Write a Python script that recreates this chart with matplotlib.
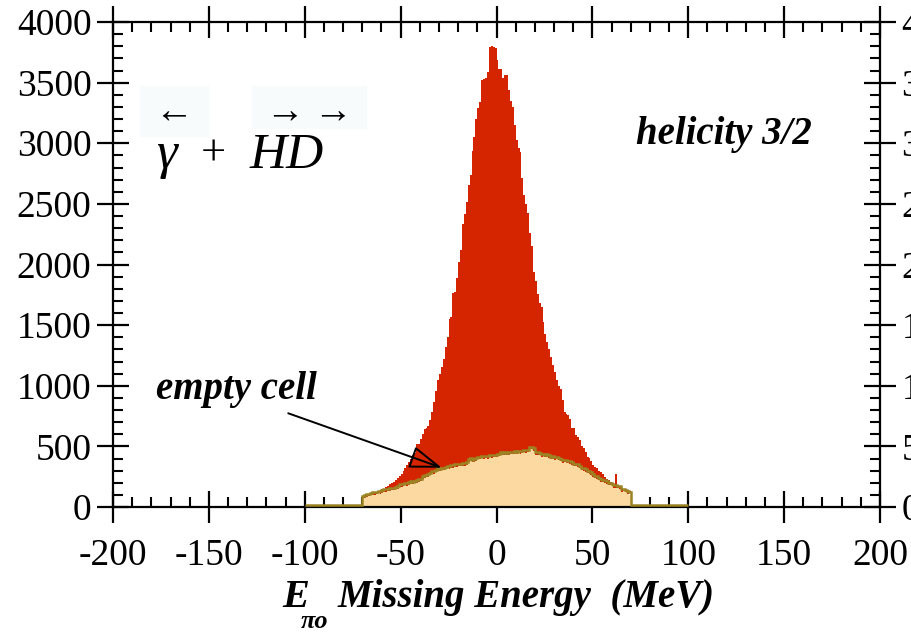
import numpy as np
import matplotlib
matplotlib.use("Agg")
import matplotlib.pyplot as plt
from matplotlib.patches import Rectangle
from matplotlib.ticker import MultipleLocator, FixedLocator, FixedFormatter
from matplotlib.transforms import ScaledTranslation

# ---------------- data ----------------
# full target (helicity 3/2), 1 MeV bins from -70 to 70 MeV
red_edges = np.arange(-70, 71, 1)
red_counts = [
    90, 95, 100, 106, 112, 116, 121, 126, 131, 138,
    146, 152, 162, 175, 186, 196, 205, 220, 236, 252,
    275, 296, 318, 345, 372, 395, 425, 448, 520, 520,
    560, 600, 640, 655, 665, 720, 785, 870, 960, 1047,
    1100, 1157, 1218, 1322, 1405, 1550, 1570, 1765, 1775, 1891,
    2023, 2120, 2334, 2416, 2515, 2655, 2738, 2936, 3050, 3200,
    3290, 3340, 3520, 3530, 3535, 3585, 3790, 3800, 3795, 3785,
    3690, 3610, 3615, 3540, 3565, 3560, 3440, 3345, 3300, 3150,
    3027, 2958, 2930, 2711, 2573, 2500, 2425, 2260, 2155, 1941,
    1864, 1757, 1680, 1650, 1528, 1424, 1364, 1300, 1240, 1171,
    1116, 1047, 1000, 970, 882, 786, 770, 759, 726, 650,
    649, 594, 580, 553, 500, 484, 450, 415, 401, 380,
    346, 330, 319, 300, 291, 270, 250, 235, 223, 205,
    195, 190, 270, 175, 168, 155, 148, 130, 121, 85,
]

# empty cell, 1 MeV bins from -100 to 100 MeV
empty_edges = np.arange(-100, 101, 1)
empty_core = [
    72, 78, 85, 88, 96, 99, 102, 104, 113, 110,
    116, 126, 124, 130, 133, 140, 138, 146, 150, 168,
    165, 170, 179, 176, 182, 190, 188, 195, 200, 209,
    214, 232, 240, 245, 250, 262, 278, 275, 286, 300,
    296, 305, 303, 312, 319, 316, 324, 322, 330, 334,
    338, 336, 342, 340, 350, 372, 382, 370, 374, 380,
    395, 392, 401, 398, 404, 400, 410, 406, 412, 410,
    415, 420, 429, 425, 432, 428, 430, 435, 433, 440,
    436, 443, 440, 445, 451, 447, 452, 476, 476, 462,
    430, 429, 425, 415, 418, 412, 415, 405, 393, 396,
    390, 392, 385, 378, 366, 370, 364, 360, 356, 350,
    338, 336, 330, 318, 305, 300, 292, 278, 275, 268,
    250, 237, 232, 222, 209, 205, 198, 190, 181, 178,
    170, 159, 160, 155, 150, 126, 130, 122, 110, 99,
]
empty_counts = [0] * 30 + empty_core + [0] * 30

x_ticks = [-200, -150, -100, -50, 0, 50, 100, 150, 200]
x_labels = ["-200", "-150", "-100", "-50", "0", "50", "100", "150", "200"]
y_ticks = [0, 500, 1000, 1500, 2000, 2500, 3000, 3500, 4000]
y_labels = [str(v) for v in y_ticks]

RED = "#d42400"
TAN = "#fdd9a2"
OLIVE = "#9c8424"

serif = ["Liberation Serif", "DejaVu Serif"]
plt.rcParams["font.family"] = serif

W, H = 911, 637
fig = plt.figure(figsize=(W / 100, H / 100), dpi=100)
ax = fig.add_axes([113 / W, 1 - 507 / H, (880 - 113) / W, (507 - 22) / H])

ax.stairs(red_counts, red_edges, fill=True, color=RED, zorder=2)
ax.stairs(empty_counts, empty_edges, fill=True, color=TAN, zorder=3)
lift = ax.transData + ScaledTranslation(0, 1.8 / 72, fig.dpi_scale_trans)
ax.stairs(empty_counts, empty_edges, fill=False, color=OLIVE, lw=1.8,
          zorder=7, transform=lift)

ax.set_xlim(-200, 200)
ax.set_ylim(0, 4000)

ax.xaxis.set_major_locator(FixedLocator(x_ticks))
ax.xaxis.set_major_formatter(FixedFormatter(x_labels))
ax.yaxis.set_major_locator(FixedLocator(y_ticks))
ax.yaxis.set_major_formatter(FixedFormatter(y_labels))
ax.xaxis.set_minor_locator(MultipleLocator(10))
ax.yaxis.set_minor_locator(MultipleLocator(100))

for s in ax.spines.values():
    s.set_linewidth(1.6)
    s.set_zorder(6)

ax.tick_params(which="major", direction="inout", length=23, width=1.6,
               top=True, right=True, labelsize=27, colors="black")
ax.tick_params(which="minor", direction="in", length=7.5, width=1.5,
               top=True, right=True)
ax.tick_params(axis="x", which="major", pad=11)
ax.tick_params(axis="y", which="major", pad=4, labelright=True)
for lab in ax.get_xticklabels() + ax.get_yticklabels():
    lab.set_fontfamily(serif)

# ---- annotations ----
fig.text(724 / W, 1 - 135 / H, "helicity 3/2", fontsize=28, fontweight="bold",
         fontstyle="italic", ha="center", va="center")
fig.text(236 / W, 1 - 390 / H, "empty cell", fontsize=28, fontweight="bold",
         fontstyle="italic", ha="center", va="center")

ax.annotate("", xy=(-28.6, 324), xytext=(-108.6, 773),
            arrowprops=dict(arrowstyle="-|>,head_length=2.0,head_width=0.7",
                            fc="none", ec="black", lw=1.4,
                            shrinkA=0, shrinkB=0),
            annotation_clip=False, zorder=8)

# faint boxes behind the arrows in the reaction label
fig.patches.append(Rectangle((140 / W, 1 - 136 / H), 68 / W, 50 / H,
                             transform=fig.transFigure, color="#f7fbfc", zorder=0))
fig.patches.append(Rectangle((252 / W, 1 - 128 / H), 114 / W, 42 / H,
                             transform=fig.transFigure, color="#f7fbfc", zorder=0))

fig.text(174 / W, 1 - 113 / H, "←", fontsize=28, ha="center", va="center")
fig.text(285 / W, 1 - 113 / H, "→", fontsize=28, ha="center", va="center")
fig.text(333 / W, 1 - 113 / H, "→", fontsize=28, ha="center", va="center")

fig.text(156 / W, 1 - 168 / H, "γ", fontsize=38, fontstyle="italic",
         ha="left", va="baseline")
fig.text(213 / W, 1 - 166 / H, "+", fontsize=32, ha="center", va="baseline")
fig.text(250 / W, 1 - 168 / H, "HD", fontsize=37, fontstyle="italic",
         ha="left", va="baseline")

# x axis title
fig.text(296 / W, 1 - 607 / H, "E", fontsize=29, fontweight="bold",
         fontstyle="italic", ha="center", va="baseline")
fig.text(315 / W, 1 - 628 / H, "πo", fontsize=19, fontweight="bold",
         fontstyle="italic", ha="center", va="baseline")
fig.text(338 / W, 1 - 607 / H, "Missing Energy  (MeV)", fontsize=28,
         fontweight="bold", fontstyle="italic", ha="left", va="baseline")

fig.savefig("out.png", dpi=100)
